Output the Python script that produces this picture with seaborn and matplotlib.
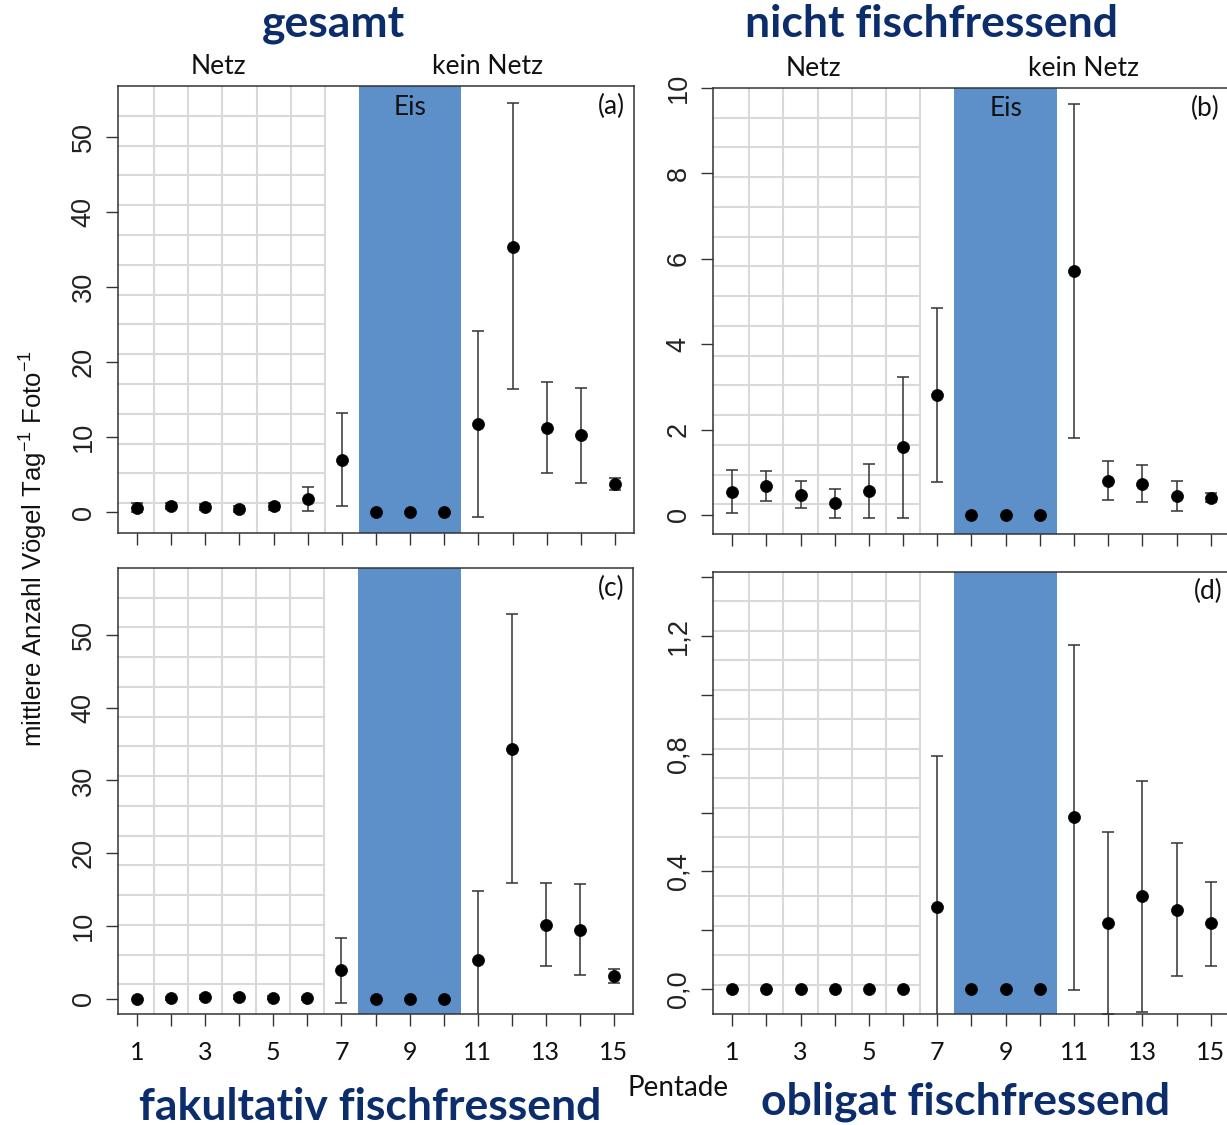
import numpy as np
import matplotlib
matplotlib.use("Agg")
import matplotlib.pyplot as plt
import matplotlib.transforms as mtransforms
import seaborn as sns

# ---------------- data ----------------
pentade = list(range(1, 16))

# (a) gesamt
a_mean = [0.57, 0.8, 0.67, 0.4, 0.75, 1.7, 7.0, 0, 0, 0, 11.7, 35.4, 11.2, 10.3, 3.8]
a_lo = [0.05, 0.35, 0.25, 0.0, 0.3, 0.13, 0.8, np.nan, np.nan, np.nan, -0.6, 16.4, 5.2, 3.9, 3.0]
a_hi = [1.15, 1.25, 1.1, 0.85, 1.2, 3.33, 13.2, np.nan, np.nan, np.nan, 24.1, 54.6, 17.3, 16.6, 4.6]

# (b) nicht fischfressend
b_mean = [0.55, 0.68, 0.48, 0.27, 0.56, 1.59, 2.8, 0, 0, 0, 5.72, 0.8, 0.73, 0.45, 0.4]
b_lo = [0.05, 0.33, 0.17, -0.06, -0.07, -0.06, 0.78, np.nan, np.nan, np.nan, 1.81, 0.34, 0.3, 0.1, 0.3]
b_hi = [1.05, 1.04, 0.8, 0.6, 1.19, 3.24, 4.84, np.nan, np.nan, np.nan, 9.63, 1.27, 1.17, 0.8, 0.51]

# (c) fakultativ fischfressend
c_mean = [0.0, 0.05, 0.2, 0.2, 0.15, 0.05, 3.9, 0, 0, 0, 5.36, 34.3, 10.1, 9.5, 3.1]
c_lo = [np.nan, -0.2, -0.1, -0.1, -0.1, -0.2, -0.6, np.nan, np.nan, np.nan, -4.0, 15.9, 4.5, 3.2, 2.15]
c_hi = [np.nan, 0.3, 0.5, 0.5, 0.4, 0.3, 8.4, np.nan, np.nan, np.nan, 14.8, 52.9, 15.9, 15.8, 4.1]

# (d) obligat fischfressend
d_mean = [0, 0, 0, 0, 0, 0, 0.278, 0, 0, 0, 0.584, 0.224, 0.315, 0.27, 0.223]
d_lo = [np.nan] * 6 + [-0.24, np.nan, np.nan, np.nan, -0.003, -0.084, -0.079, 0.044, 0.079]
d_hi = [np.nan] * 6 + [0.793, np.nan, np.nan, np.nan, 1.171, 0.535, 0.709, 0.496, 0.364]

titles = ["gesamt", "nicht fischfressend", "fakultativ fischfressend", "obligat fischfressend"]
panel_tags = ["(a)", "(b)", "(c)", "(d)"]
ylabel = "mittlere Anzahl Vögel Tag$^{\\mathregular{-1}}$ Foto$^{\\mathregular{-1}}$"
xlabel = "Pentade"

# ---------------- style ----------------
sns.set_theme(style="white")
plt.rcParams["font.family"] = ["Lato", "DejaVu Sans"]
plt.rcParams["mathtext.fontset"] = "custom"
plt.rcParams["mathtext.rm"] = "Liberation Sans"

ICE = "#5D8FC8"
GRID = "#D9D9D9"
INK = "#333333"
NAVY = "#0C2D6B"

fig = plt.figure(figsize=(12.27, 11.25), dpi=100)

W, H = 1227.0, 1125.0
def rect(l, t, r, b):
    return [l / W, 1 - b / H, (r - l) / W, (b - t) / H]

rects = [rect(118, 86, 634, 533), rect(713, 88, 1230, 534),
         rect(118, 568, 633, 1014), rect(713, 572, 1230, 1014)]
ylims = [(-2.8, 56.8), (-0.445, 10.0), (-2.1, 59.2), (-0.085, 1.418)]
yticks = [[0, 10, 20, 30, 40, 50], [0, 2, 4, 6, 8, 10], [0, 10, 20, 30, 40, 50],
          [0, 0.2, 0.4, 0.6, 0.8, 1.0, 1.2, 1.4]]
yticklabels = [["0", "10", "20", "30", "40", "50"], ["0", "2", "4", "6", "8", "10"],
               ["0", "10", "20", "30", "40", "50"],
               ["0,0", "", "0,4", "", "0,8", "", "1,2", ""]]
series = [(a_mean, a_lo, a_hi), (b_mean, b_lo, b_hi), (c_mean, c_lo, c_hi), (d_mean, d_lo, d_hi)]

LBL = 19

for i, (r, (m, lo, hi)) in enumerate(zip(rects, series)):
    ax = fig.add_axes(r)
    ax.set_xlim(0.44, 15.56)
    ax.set_ylim(*ylims[i])

    # pasted grid on the "Netz" part (15 rows, columns at half pentades)
    blend = mtransforms.blended_transform_factory(ax.transData, ax.transAxes)
    for k in range(1, 15):
        ax.plot([0.44, 6.5], [k / 15, k / 15], color=GRID, lw=1.5, transform=blend, zorder=0.5,
                clip_on=False)
    for xv in [1.5, 2.5, 3.5, 4.5, 5.5, 6.5]:
        ax.plot([xv, xv], [0, 1], color=GRID, lw=1.5, transform=blend, zorder=0.5)

    # ice period
    ax.axvspan(7.5, 10.5, color=ICE, lw=0, zorder=1)

    m = np.asarray(m, float); lo = np.asarray(lo, float); hi = np.asarray(hi, float)
    x = np.asarray(pentade, float)
    ok = ~np.isnan(lo)
    ax.errorbar(x[ok], m[ok], yerr=[m[ok] - lo[ok], hi[ok] - m[ok]], fmt="none",
                ecolor=INK, elinewidth=1.1, capsize=4.4, capthick=1.1, zorder=3)
    sns.scatterplot(x=x, y=m, ax=ax, color="black", s=75, edgecolor="black",
                    linewidth=0.5, zorder=4, legend=False)
    ax.set_xlabel("")
    ax.set_ylabel("")

    ax.set_yticks(yticks[i])
    ax.set_yticklabels(yticklabels[i], fontfamily="Liberation Sans", fontsize=19.5,
                       rotation=90, va="center", color="#222222")
    ax.set_xticks(pentade)
    if i >= 2:
        ax.set_xticklabels([str(p) if p % 2 == 1 else "" for p in pentade], fontsize=18,
                           color="#111111")
    else:
        ax.set_xticklabels([])
    ax.tick_params(axis="both", direction="out", length=8.3, width=1.0, color=INK,
                   left=True, bottom=True)
    ax.tick_params(axis="y", pad=7)
    ax.tick_params(axis="x", pad=11)
    for s in ax.spines.values():
        s.set_visible(True)
        s.set_color(INK)
        s.set_linewidth(1.1)

    if i < 2:
        ax.text(9.0, 0.953, "Eis", transform=blend, ha="center", va="center",
                fontsize=LBL, color="#111111", zorder=5)
    ax.text(0.957 if i != 1 else 0.953, 0.955, panel_tags[i], transform=ax.transAxes,
            ha="center", va="center", fontsize=LBL, color="#111111")
    if i < 2:
        ax.text(3.38, 1.043, "Netz", transform=blend, ha="center", va="center",
                fontsize=LBL, color="#111111", clip_on=False)
        ax.text(11.28, 1.043, "kein Netz", transform=blend, ha="center", va="center",
                fontsize=LBL, color="#111111", clip_on=False)

# titles
TS = 32
fig.text(333 / W, 1 - 37 / H, titles[0], ha="center", va="baseline", fontsize=TS,
         fontweight="bold", color=NAVY)
fig.text(932 / W, 1 - 37 / H, titles[1], ha="center", va="baseline", fontsize=TS,
         fontweight="bold", color=NAVY)
fig.text(370 / W, 1 - 1120 / H, titles[2], ha="center", va="baseline", fontsize=TS,
         fontweight="bold", color=NAVY)
fig.text(966 / W, 1 - 1114 / H, titles[3], ha="center", va="baseline", fontsize=TS,
         fontweight="bold", color=NAVY)

fig.text(678 / W, 1 - 1096 / H, xlabel, ha="center", va="baseline", fontsize=20,
         color="#111111")
fig.text(33 / W, 1 - 549 / H, ylabel, ha="center", va="center", rotation=90,
         fontsize=18.5, fontfamily="Liberation Sans", color="#111111")

fig.savefig("out.png", dpi=100)
